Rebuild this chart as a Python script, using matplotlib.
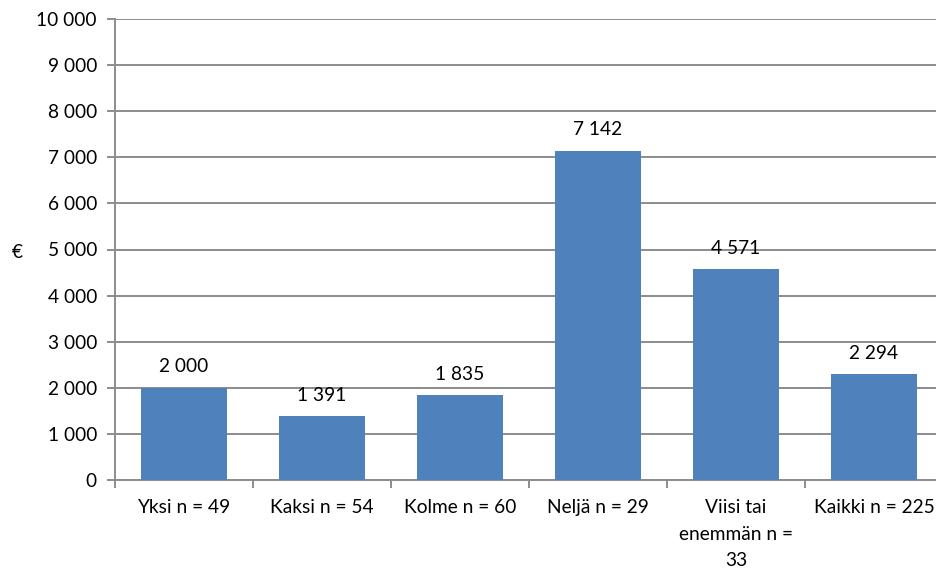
import matplotlib
matplotlib.use("Agg")
import matplotlib.pyplot as plt
import numpy as np

categories = ["Yksi n = 49", "Kaksi n = 54", "Kolme n = 60", "Neljä n = 29",
              "Viisi tai\nenemmän n =\n33", "Kaikki n = 225"]
values = [2000, 1391, 1835, 7142, 4571, 2294]
y_ticks = list(range(0, 10001, 1000))

BAR_COLOR = "#4F81BD"
GRID_COLOR = "#8C8C8C"
FS = 13.8

plt.rcParams["font.family"] = ["Lato", "DejaVu Sans"]


def fmt(v):
    return f"{v:,}".replace(",", " ")


fig = plt.figure(figsize=(9.36, 5.69), dpi=100)
ax = fig.add_axes([115 / 936, 1 - 480 / 569, 828 / 936, 461 / 569])

x = np.arange(len(categories))
bars = ax.bar(x, values, width=0.62, color=BAR_COLOR, zorder=3)

for xi, v in zip(x, values):
    ax.annotate(fmt(v), (xi, v), xytext=(0, 15), textcoords="offset points",
                ha="center", va="center", fontsize=FS, color="black")

ax.set_xlim(-0.5, len(categories) - 0.5)
ax.set_ylim(0, 10000)
ax.set_yticks(y_ticks)
ax.set_yticklabels([fmt(t) for t in y_ticks], fontsize=FS)
ax.yaxis.grid(True, color=GRID_COLOR, linewidth=1.4, zorder=0)

# category labels between boundary ticks
ax.set_xticks(np.arange(-0.5, len(categories), 1.0))
ax.set_xticklabels([])
ax.set_xticks(x, minor=True)
ax.set_xticklabels(categories, minor=True, fontsize=FS, linespacing=1.65)
ax.tick_params(axis="x", which="minor", length=0, pad=14)
ax.tick_params(axis="x", which="major", length=6, width=1.4, color=GRID_COLOR)
ax.tick_params(axis="y", length=6, width=1.4, color=GRID_COLOR, pad=7)

for side in ["top", "right"]:
    ax.spines[side].set_visible(False)
for side in ["left", "bottom"]:
    ax.spines[side].set_color(GRID_COLOR)
    ax.spines[side].set_linewidth(1.4)

fig.text(12 / 936, 1 - 252 / 569, "€", fontsize=FS, va="center", ha="left")

fig.savefig("out.png", dpi=100)
